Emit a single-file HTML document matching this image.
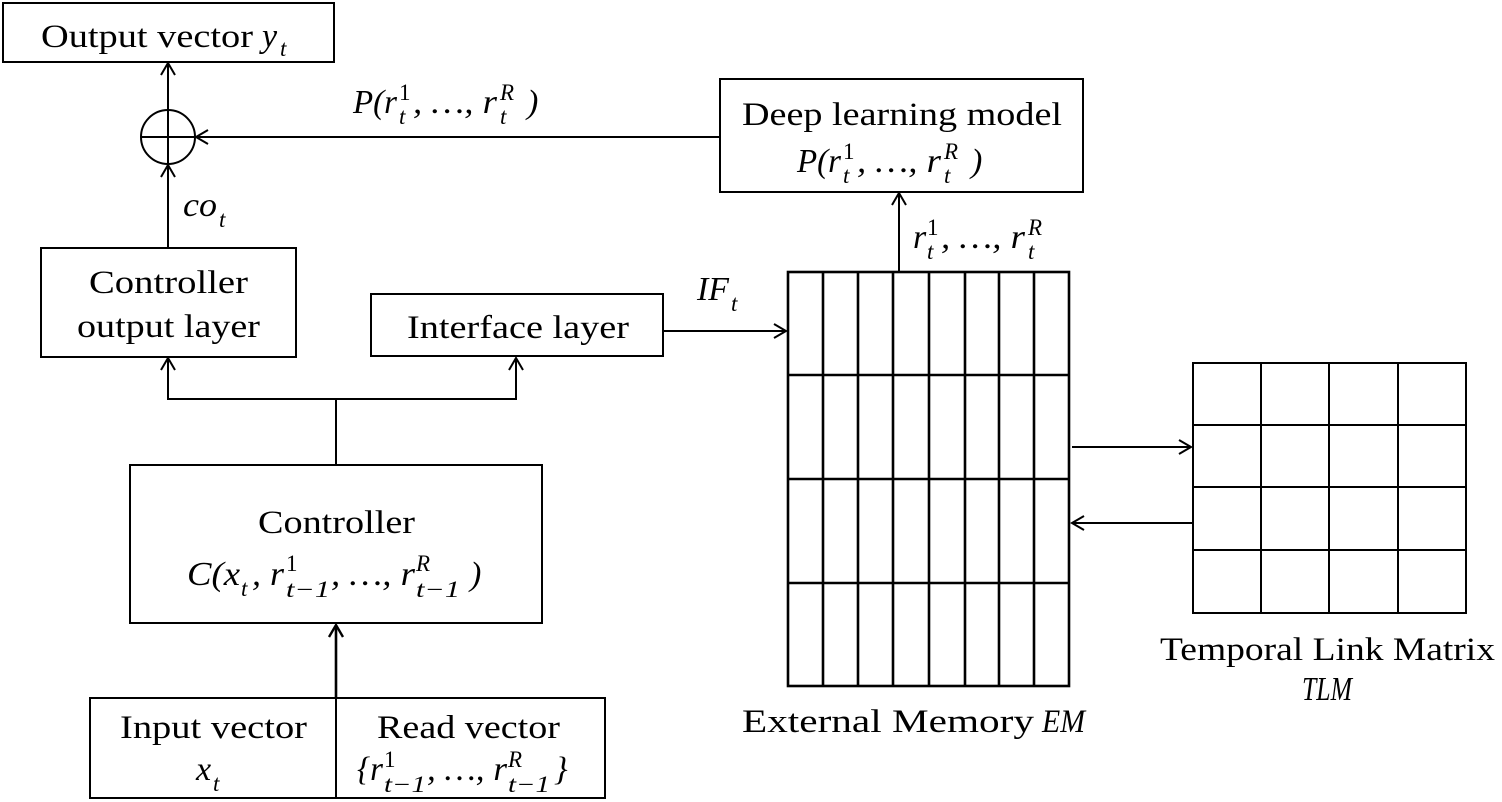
<!DOCTYPE html>
<html><head><meta charset="utf-8">
<style>
html,body{margin:0;padding:0;background:#fff;}
svg{display:block;}
text{font-family:"Liberation Serif",serif;fill:#000;}
.t{font-size:33px;}
.m{font-size:34px;font-style:italic;}
.s{font-size:23px;font-style:italic;}
.n{font-size:23px;}
</style></head><body>
<svg width="1502" height="802" viewBox="0 0 1502 802" xmlns="http://www.w3.org/2000/svg">
<g fill="none" stroke="#000" stroke-width="2">
  <rect x="3" y="3" width="331" height="59"/>
  <circle cx="168" cy="137" r="27"/>
  <line x1="141" y1="137" x2="195" y2="137"/>
  <line x1="168" y1="110" x2="168" y2="164"/>
  <line x1="168" y1="110" x2="168" y2="63"/>
  <polyline points="161,75 168,63 175,75"/>
  <line x1="168" y1="248" x2="168" y2="165"/>
  <polyline points="161,177 168,165 175,177"/>
  <line x1="720" y1="137" x2="196" y2="137"/>
  <polyline points="208,130 196,137 208,144"/>
  <rect x="720" y="79" width="363" height="113"/>
  <rect x="41" y="248" width="255" height="109"/>
  <rect x="371" y="294" width="292" height="62"/>
  <polyline points="168,358 168,399 516,399 516,358"/>
  <polyline points="161,370 168,358 175,370"/>
  <polyline points="509,370 516,358 523,370"/>
  <line x1="336" y1="399" x2="336" y2="465"/>
  <rect x="130" y="465" width="412" height="158"/>
  <line x1="336" y1="698" x2="336" y2="625" stroke-width="2.6"/>
  <polyline points="329,637 336,625 343,637" stroke-width="2.4"/>
  <rect x="90" y="698" width="515" height="100"/>
  <line x1="336" y1="698" x2="336" y2="798"/>
  <line x1="663" y1="331" x2="786" y2="331"/>
  <polyline points="774,324 786,331 774,338"/>
  <line x1="899" y1="272" x2="899" y2="193"/>
  <polyline points="892,205 899,193 906,205"/>
</g>
<g fill="none" stroke="#000" stroke-width="2.6">
  <rect x="788" y="272" width="281" height="414"/>
  <line x1="823" y1="272" x2="823" y2="686"/>
  <line x1="858" y1="272" x2="858" y2="686"/>
  <line x1="893" y1="272" x2="893" y2="686"/>
  <line x1="929" y1="272" x2="929" y2="686"/>
  <line x1="965" y1="272" x2="965" y2="686"/>
  <line x1="999" y1="272" x2="999" y2="686"/>
  <line x1="1034" y1="272" x2="1034" y2="686"/>
  <line x1="788" y1="375" x2="1069" y2="375"/>
  <line x1="788" y1="479" x2="1069" y2="479"/>
  <line x1="788" y1="583" x2="1069" y2="583"/>
</g>
<g fill="none" stroke="#000" stroke-width="2">
  <rect x="1193" y="363" width="273" height="250"/>
  <line x1="1261" y1="363" x2="1261" y2="613"/>
  <line x1="1329" y1="363" x2="1329" y2="613"/>
  <line x1="1398" y1="363" x2="1398" y2="613"/>
  <line x1="1193" y1="425" x2="1466" y2="425"/>
  <line x1="1193" y1="487" x2="1466" y2="487"/>
  <line x1="1193" y1="550" x2="1466" y2="550"/>
  <line x1="1072" y1="447" x2="1191" y2="447"/>
  <polyline points="1179,440 1191,447 1179,454"/>
  <line x1="1193" y1="523" x2="1072" y2="523"/>
  <polyline points="1084,516 1072,523 1084,530"/>
</g>

<text class="t" x="41" y="47" textLength="212" lengthAdjust="spacingAndGlyphs">Output vector</text>
<text class="m" x="262" y="47">y</text><text class="s" x="280" y="56">t</text>

<text class="m" x="353" y="113" textLength="44" lengthAdjust="spacingAndGlyphs">P(r</text><text class="s" x="399" y="124">t</text><text class="n" x="399" y="100">1</text>
<text class="m" x="413" y="113" textLength="84" lengthAdjust="spacingAndGlyphs">, …, r</text><text class="s" x="500" y="124">t</text><text class="s" x="500" y="100">R</text><text class="m" x="527" y="113">)</text>

<text class="m" x="183" y="216" textLength="34" lengthAdjust="spacingAndGlyphs">co</text><text class="s" x="219" y="227">t</text>

<text class="t" x="89" y="293" textLength="159" lengthAdjust="spacingAndGlyphs">Controller</text>
<text class="t" x="77" y="337" textLength="183" lengthAdjust="spacingAndGlyphs">output layer</text>
<text class="t" x="407" y="338" textLength="222" lengthAdjust="spacingAndGlyphs">Interface layer</text>
<text class="t" x="742" y="125" textLength="320" lengthAdjust="spacingAndGlyphs">Deep learning model</text>

<text class="m" x="797" y="172" textLength="44" lengthAdjust="spacingAndGlyphs">P(r</text><text class="s" x="843" y="183">t</text><text class="n" x="843" y="159">1</text>
<text class="m" x="857" y="172" textLength="84" lengthAdjust="spacingAndGlyphs">, …, r</text><text class="s" x="944" y="183">t</text><text class="s" x="944" y="159">R</text><text class="m" x="971" y="172">)</text>

<text class="m" x="913" y="248">r</text><text class="s" x="927" y="259">t</text><text class="n" x="927" y="235">1</text>
<text class="m" x="941" y="248" textLength="84" lengthAdjust="spacingAndGlyphs">, …, r</text><text class="s" x="1028" y="259">t</text><text class="s" x="1028" y="235">R</text>

<text class="m" x="697" y="300" textLength="32" lengthAdjust="spacingAndGlyphs">IF</text><text class="s" x="731" y="311">t</text>

<text class="t" x="258" y="533" textLength="157" lengthAdjust="spacingAndGlyphs">Controller</text>
<text class="m" x="187" y="585" textLength="53" lengthAdjust="spacingAndGlyphs">C(x</text><text class="s" x="241" y="596">t</text>
<text class="m" x="252" y="585" textLength="32" lengthAdjust="spacingAndGlyphs">, r</text><text class="s" x="286" y="597" textLength="44" lengthAdjust="spacingAndGlyphs">t−1</text><text class="n" x="286" y="571">1</text>
<text class="m" x="331" y="585" textLength="84" lengthAdjust="spacingAndGlyphs">, …, r</text><text class="s" x="416" y="597" textLength="44" lengthAdjust="spacingAndGlyphs">t−1</text><text class="s" x="416" y="571">R</text>
<text class="m" x="470" y="585">)</text>

<text class="t" x="120" y="738" textLength="187" lengthAdjust="spacingAndGlyphs">Input vector</text>
<text class="m" x="196" y="780">x</text><text class="s" x="213" y="791">t</text>

<text class="t" x="377" y="738" textLength="183" lengthAdjust="spacingAndGlyphs">Read vector</text>
<text class="m" x="357" y="780" textLength="26" lengthAdjust="spacingAndGlyphs">{r</text><text class="s" x="384" y="792" textLength="42" lengthAdjust="spacingAndGlyphs">t−1</text><text class="n" x="384" y="767">1</text>
<text class="m" x="427" y="780" textLength="80" lengthAdjust="spacingAndGlyphs">, …, r</text><text class="s" x="508" y="792" textLength="42" lengthAdjust="spacingAndGlyphs">t−1</text><text class="s" x="508" y="767">R</text>
<text class="m" x="554" y="780">}</text>

<text class="t" x="742" y="732" textLength="292" lengthAdjust="spacingAndGlyphs">External Memory</text>
<text class="t" x="1042" y="732" font-style="italic" textLength="43" lengthAdjust="spacingAndGlyphs">EM</text>

<text class="t" x="1160" y="660" textLength="335" lengthAdjust="spacingAndGlyphs">Temporal Link Matrix</text>
<text class="m" x="1302" y="700" textLength="50" lengthAdjust="spacingAndGlyphs">TLM</text>
</svg>
</body></html>
